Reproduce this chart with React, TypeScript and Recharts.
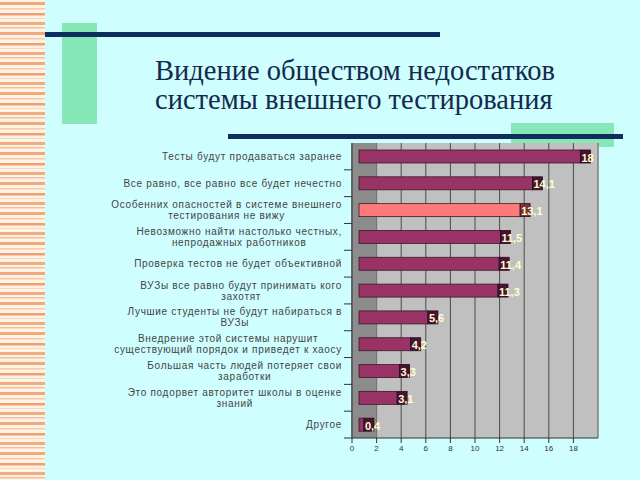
import React from "react";
import {
  Bar,
  BarChart,
  CartesianGrid,
  Cell,
  LabelList,
  ReferenceArea,
  ReferenceLine,
  XAxis,
  YAxis,
} from "recharts";

const categories = [
  "Тесты будут продаваться заранее",
  "Все равно, все равно все будет нечестно",
  "Особенних опасностей в системе внешнего\nтестирования не вижу",
  "Невозможно найти настолько честных,\nнепродажных работников",
  "Проверка тестов не будет объективной",
  "ВУЗы все равно будут принимать кого\nзахотят",
  "Лучшие студенты не будут набираться в\nВУЗы",
  "Внедрение этой системы нарушит\nсуществующий порядок и приведет к хаосу",
  "Большая часть людей потеряет свои\nзаработки",
  "Это подорвет авторитет школы в оценке\nзнаний",
  "Другое",
];
const values = [18, 14.1, 13.1, 11.5, 11.4, 11.3, 5.6, 4.2, 3.3, 3.1, 0.4];
const highlighted = [2];
const xTicks = [0, 2, 4, 6, 8, 10, 12, 14, 16, 18];

const data = categories.map((name, i) => ({ name, value: values[i] }));

const TOP = 143;
const BOTTOM = 438;
const BAND = (BOTTOM - TOP) / categories.length;
const DEPTH = 7;
const LABEL_FONT = "10px 'Liberation Sans'";
const SPACING = 0.7;

let ctx: CanvasRenderingContext2D | null = null;
function textWidth(s: string) {
  if (!ctx) ctx = document.createElement("canvas").getContext("2d");
  if (!ctx) return s.length * 5.8;
  ctx.font = LABEL_FONT;
  return ctx.measureText(s).width + s.length * SPACING;
}

function CategoryTick(props: any) {
  const { x, y, payload } = props;
  const lines: string[] = String(payload.value).split("\n");
  const w = Math.max(...lines.map(textWidth));
  const cx = x - w / 2;
  const y0 = y - ((lines.length - 1) * 11) / 2;
  return (
    <g>
      <line x1={x + 2} x2={x + 10} y1={y + BAND / 2} y2={y + BAND / 2} stroke="#333" />
      {lines.map((l, i) => (
        <text
          key={i}
          x={cx}
          y={y0 + i * 11}
          textAnchor="middle"
          dominantBaseline="central"
          fontFamily="'Liberation Sans', Arial, sans-serif"
          fontSize={10}
          letterSpacing={SPACING}
          fill="#444"
        >
          {l}
        </text>
      ))}
    </g>
  );
}

function Bar3D(props: any) {
  const { x, y, width, height, fill, index } = props;
  const cap = highlighted.includes(index) ? "#7a3535" : "#4a1232";
  return (
    <g>
      <rect x={x + DEPTH} y={y} width={width} height={height} fill={fill} stroke="#3a1a2a" strokeWidth={0.8} />
      <rect x={x + DEPTH + width} y={y} width={10} height={height} fill={cap} stroke="#2a0a1a" strokeWidth={0.8} />
    </g>
  );
}

function ValueLabel(props: any) {
  const { x, y, width, height, value } = props;
  return (
    <text
      x={x + width + DEPTH + 1}
      y={y + height / 2 + 1}
      dominantBaseline="central"
      fontFamily="'Liberation Sans', Arial, sans-serif"
      fontWeight="bold"
      fontSize={11}
      fill="#ffffcc"
    >
      {String(value).replace(".", ",")}
    </text>
  );
}

function Decorations() {
  const serif = "'Liberation Serif', 'Times New Roman', serif";
  return (
    <svg width={640} height={480} style={{ position: "absolute", left: 0, top: 0 }}>
      <defs>
        <pattern id="stripes" width={45} height={30} patternUnits="userSpaceOnUse">
          <rect x={0} y={2} width={45} height={3} fill="#f2a878" />
          <rect x={0} y={8} width={45} height={1.5} fill="#f6c8a4" />
          <rect x={0} y={13} width={45} height={2.5} fill="#f0a070" />
          <rect x={0} y={18} width={45} height={1} fill="#f8d8bc" />
          <rect x={0} y={22} width={45} height={3} fill="#f2ac80" />
          <rect x={0} y={27} width={45} height={1.5} fill="#f4c09c" />
        </pattern>
      </defs>
      <rect x={0} y={0} width={45} height={480} fill="#fff3e8" />
      <rect x={0} y={0} width={45} height={480} fill="url(#stripes)" />
      <rect x={62} y={23} width={35} height={101} fill="#86e8b6" />
      <rect x={45} y={32} width={395} height={5} fill="#0e2f5e" />
      <rect x={511} y={123} width={103} height={24} fill="#86e8b6" />
      <rect x={228} y={134} width={395} height={5} fill="#0e2f5e" />
      <text x={155} y={80} fontFamily={serif} fontSize={28.5} fill="#15294d">
        Видение обществом недостатков
      </text>
      <text x={155} y={109} fontFamily={serif} fontSize={28.5} fill="#15294d">
        системы внешнего тестирования
      </text>
    </svg>
  );
}

export default function App() {
  return (
    <div
      style={{
        position: "fixed",
        left: 0,
        top: 0,
        width: 640,
        height: 480,
        background: "#cefefe",
        overflow: "hidden",
      }}
    >
      <Decorations />
      <div style={{ position: "absolute", left: 0, top: 0 }}>
        <BarChart
          width={640}
          height={480}
          layout="vertical"
          data={data}
          margin={{ top: TOP, right: 42, bottom: 22, left: 0 }}
        >
          <CartesianGrid horizontal={false} fill="#c0c0c0" stroke="#4a4a4a" />
          <ReferenceArea x1={0} x2={2} fill="#8c8c8c" fillOpacity={1} stroke="none" />
          <ReferenceLine x={20} stroke="#9a9a9a" />
          <XAxis
            type="number"
            domain={[0, 20]}
            ticks={xTicks}
            height={20}
            tickSize={5}
            tick={{ fontSize: 8, fill: "#333", fontFamily: "'Liberation Sans', Arial" }}
            tickLine={{ stroke: "#333" }}
            axisLine={{ stroke: "#333" }}
          />
          <YAxis
            type="category"
            dataKey="name"
            width={352}
            tickSize={8}
            tickMargin={2}
            tickLine={false}
            axisLine={{ stroke: "#333" }}
            tick={<CategoryTick />}
            interval={0}
          />
          <Bar dataKey="value" barSize={13} shape={<Bar3D />} isAnimationActive={false}>
            {data.map((_, i) => (
              <Cell key={i} fill={highlighted.includes(i) ? "#ff7b7b" : "#993366"} />
            ))}
            <LabelList dataKey="value" content={<ValueLabel />} />
          </Bar>
        </BarChart>
      </div>
    </div>
  );
}
